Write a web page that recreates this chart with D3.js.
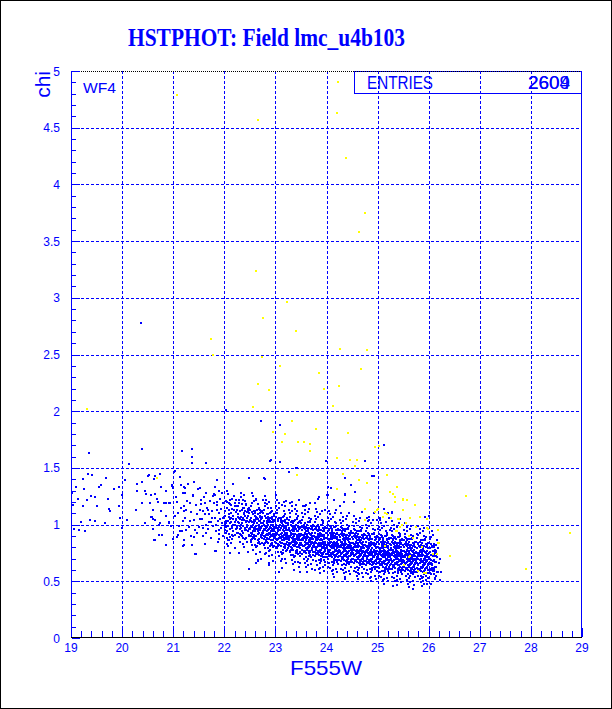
<!DOCTYPE html>
<html><head><meta charset="utf-8">
<script src="https://cdn.jsdelivr.net/npm/d3@7"></script>
<style>html,body{margin:0;padding:0;background:#fff}svg{display:block}</style>
</head><body>
<script>
const titleText = "HSTPHOT: Field lmc_u4b103";
const xLabel = "F555W";
const yLabel = "chi";
const chipLabel = "WF4";
const statsName = "ENTRIES";
const statsValues = ["2609", "2604"];
const xTicks = [19,20,21,22,23,24,25,26,27,28,29];
const yTicks = [0,0.5,1,1.5,2,2.5,3,3.5,4,4.5,5];
const yTickLabels = ["0","0.5","1","1.5","2","2.5","3","3.5","4","4.5","5"];

// sparse blue stars (bright end + outliers)
const blueSparse = [[19.35,1.63],[20.39,1.67],[21.37,1.67],[21.37,1.60],[21.18,1.65],[20.13,1.53],[21.64,1.54],[21.36,1.54],[20.37,2.78],[22.03,2.01],
[19.33,1.45],[19.42,1.44],[19.68,1.41],[20.05,1.39],[19.10,1.33],[19.23,1.40],[19.54,1.33],[19.58,1.35],[19.25,1.31],[19.85,1.31],[19.93,1.33],[19.99,1.26],[20.29,1.36],[20.39,1.38],[20.52,1.44],[20.62,1.40],[20.74,1.45],[20.76,1.33],[20.86,1.30],[20.97,1.34],[21.04,1.47],[21.13,1.42],[21.24,1.32],[20.29,1.30],[20.45,1.30],[20.56,1.26],[20.64,1.27],[19.14,1.23],[19.31,1.22],[19.39,1.25],[19.46,1.24],[19.72,1.23],[19.24,1.16],[19.50,1.16],[19.74,1.14],[19.76,1.12],[19.93,1.16],[20.09,1.04],[20.27,1.13],[20.39,1.19],[20.55,1.19],[20.57,1.07],[20.61,1.05],[20.68,1.23],[20.72,1.00],[20.85,1.19],[20.86,1.08],[20.94,1.19],[20.91,1.01],[20.73,0.91],[20.62,0.86],[20.86,0.82],[19.37,1.04],[19.46,1.03],[19.20,1.02],[19.66,1.01],[19.06,0.96],[19.15,0.95],[19.27,0.94],[19.99,0.97],[19.96,1.06],[20.99,1.32],[21.07,1.20],[21.09,1.10],[21.21,1.16],[21.09,0.91],[21.17,0.94],[21.21,0.82],[21.43,0.74],[21.63,0.83],[21.82,0.77],[22.11,0.75],[22.28,0.75],[22.66,0.68],[22.49,0.61],
[20.51,1.43],[20.64,1.43],[21.13,1.42],[21.02,1.46],[20.98,1.35],[21.22,1.33],[21.53,1.32],[21.81,1.33],[21.86,1.39],[22.17,1.36],[22.48,1.41],[21.89,1.30],[21.24,1.28],[21.64,1.28],[21.39,1.26],[21.54,1.22],[21.08,1.20],[21.33,1.19],[21.26,1.13],[21.09,1.10],[21.63,1.19],[21.80,1.19],[21.82,1.26],[21.52,1.13],[21.68,1.13],[21.85,1.13],[21.75,1.06],[21.97,1.06],[21.20,1.03],[21.33,1.03],[21.56,1.05],[21.51,0.98],[21.64,1.00],[21.42,0.95],[21.26,0.95],[21.13,0.94],[21.07,0.89],[21.22,0.86],[21.41,0.89],[21.59,0.90],[21.89,0.92],[21.90,0.87],[21.20,0.81],[21.37,0.82],[21.45,0.74],[21.84,0.77],[22.06,0.83],
[20.38,1.38],[20.47,1.27],[20.39,1.19],[20.61,1.13],[20.77,1.12],[20.70,1.20],[20.82,1.19],[20.92,1.19],[20.58,1.07],[20.64,1.04],[20.45,1.01],[20.75,1.01],[20.91,1.02],[20.95,0.99],[20.61,0.96],[20.79,0.91],[20.64,0.86],[21.00,0.87],[19.02,1.28],[19.04,1.17],
[21.52,1.05],[21.55,1.18],[21.58,0.97],[21.60,1.24],[21.62,1.09],[21.65,0.93],[21.67,1.15],[21.70,1.02],[21.72,1.21],[21.74,0.88],[21.76,1.12],[21.78,0.99],[21.80,1.27],[21.81,1.06],[21.83,0.94],[21.85,1.17],[21.87,1.03],[21.88,0.85],[21.90,1.10],[21.91,1.23],[21.93,0.97],[21.94,1.14],[21.96,1.01],[21.97,0.90],[21.98,1.19],[21.99,1.07],[21.71,1.09],[21.77,1.25],[21.84,1.00],[21.89,0.95],[21.95,1.28],[21.68,0.96],[21.59,1.12],[21.92,1.05],[21.86,1.20],[21.73,1.02],
[21.03,1.08],[21.06,1.24],[21.12,0.99],[21.15,1.15],[21.19,1.28],[21.23,1.06],[21.27,1.21],[21.30,0.98],[21.34,1.11],[21.38,1.25],[21.41,1.04],[21.44,1.17],[21.47,0.93],[21.49,1.31],[21.28,1.36],[21.35,0.90],[21.46,1.09],[21.16,1.35],[21.40,1.38],[21.21,1.12],
[22.71,1.91],[23.09,1.88],[22.91,1.57],[23.09,1.55],[22.79,1.40],[25.13,1.70],[24.75,1.56],[24.36,1.41],[24.90,1.43],[24.55,1.29],[24.08,1.32],[24.02,1.26],[23.43,1.50],[23.27,1.46],[22.78,1.41],[22.90,1.56],[23.41,1.50],[23.99,1.56],[24.92,1.43],
[22.63,1.22],[22.80,1.19],[22.86,1.15],[23.02,1.26],[23.20,1.21],[23.33,1.20],[23.43,1.12],[23.58,1.16],[23.67,1.19],[23.77,1.19],[23.84,1.23],[24.01,1.26],[24.03,1.33],[24.09,1.32],[24.36,1.27],[24.35,1.20],[24.48,1.35],[24.56,1.29],[24.54,1.20],[24.26,1.16],[24.18,1.13],[23.97,1.13],[24.53,1.08],[22.69,1.13],[22.37,1.22],[22.76,1.22],[23.86,1.24],[23.47,1.22],[23.18,1.16],[23.59,1.17],[24.15,1.22],[24.37,1.26],[24.45,1.10],[24.69,1.11],[24.84,1.07],[24.93,1.10],[25.05,1.06],[25.22,1.06],[25.44,1.05],[25.29,1.10],[25.13,1.14],[25.21,1.10],[25.28,1.11],[24.84,1.04],[24.98,1.04],[25.93,1.07],[26.01,1.08],
[26.22,0.51],[25.91,0.48],[25.31,0.46],[25.70,0.43],[23.07,0.58],[23.49,0.58],[23.77,0.60],[24.15,0.54],[24.36,0.52],[24.62,0.57],[22.65,0.69],[22.79,0.74],[22.87,0.66],[23.48,0.66],[23.97,0.64]];

// main clump of blue stars, faint end
const blueCore = [
[22.01,1.12],[22.02,0.95],[22.03,1.21],[22.04,1.03],[22.05,0.88],[22.06,1.15],[22.07,0.99],[22.08,1.27],[22.09,1.07],[22.10,0.92],[22.11,1.18],[22.12,1.01],[22.13,0.84],[22.14,1.10],[22.15,0.97],[22.16,1.23],[22.17,1.05],[22.18,0.90],[22.19,1.13],[22.20,1.00],[22.21,0.79],[22.22,1.16],[22.23,1.04],[22.24,0.93],[22.02,1.08],[22.05,1.30],[22.07,0.86],[22.09,1.19],[22.11,0.96],[22.13,1.06],[22.15,1.14],[22.17,0.94],[22.19,1.25],[22.21,1.02],[22.23,1.11],[22.04,0.98],[22.06,1.20],[22.08,1.03],[22.10,1.09],[22.12,0.89],[22.14,1.17],[22.16,0.99],[22.18,1.08],[22.20,0.91],[22.22,1.05],[22.24,1.13],[22.03,0.93],[22.08,0.81],[22.12,1.22],[22.16,0.87],[22.20,1.19],[22.24,0.99],[22.01,1.00],[22.14,1.02],[22.22,0.96],
[22.26,1.07],[22.27,0.93],[22.28,1.19],[22.29,1.01],[22.30,0.85],[22.31,1.12],[22.32,0.97],[22.33,1.24],[22.34,1.04],[22.35,0.90],[22.36,1.15],[22.37,0.99],[22.38,0.80],[22.39,1.09],[22.40,0.95],[22.41,1.21],[22.42,1.03],[22.43,0.88],[22.44,1.11],[22.45,0.98],[22.46,0.76],[22.47,1.14],[22.48,1.02],[22.49,0.91],[22.26,1.16],[22.28,0.89],[22.30,1.05],[22.32,1.28],[22.34,0.94],[22.36,1.06],[22.38,1.10],[22.40,0.87],[22.42,1.17],[22.44,1.00],[22.46,1.08],[22.48,0.96],[22.27,1.02],[22.29,1.22],[22.31,0.92],[22.33,1.00],[22.35,1.13],[22.37,0.83],[22.39,1.04],[22.41,0.97],[22.43,1.18],[22.45,1.06],[22.47,0.94],[22.49,1.10],[22.25,0.99],[22.30,0.96],[22.35,1.01],[22.40,1.12],[22.45,0.85],[22.28,1.06],[22.33,0.91],[22.38,1.26],[22.43,1.02],[22.48,1.15],[22.36,0.93],[22.41,1.08],
[22.51,1.04],[22.52,0.90],[22.53,1.16],[22.54,0.98],[22.55,0.82],[22.56,1.09],[22.57,0.94],[22.58,1.21],[22.59,1.01],[22.60,0.87],[22.61,1.12],[22.62,0.96],[22.63,0.74],[22.64,1.06],[22.65,0.92],[22.66,1.18],[22.67,1.00],[22.68,0.85],[22.69,1.08],[22.70,0.95],[22.71,0.70],[22.72,1.11],[22.73,0.99],[22.74,0.88],[22.51,1.13],[22.53,0.86],[22.55,1.02],[22.57,1.25],[22.59,0.91],[22.61,1.03],[22.63,1.07],[22.65,0.84],[22.67,1.14],[22.69,0.97],[22.71,1.05],[22.73,0.93],[22.52,0.99],[22.54,1.19],[22.56,0.89],[22.58,0.97],[22.60,1.10],[22.62,0.80],[22.64,1.01],[22.66,0.94],[22.68,1.15],[22.70,1.03],[22.72,0.91],[22.74,1.07],[22.50,0.96],[22.55,0.93],[22.60,0.98],[22.65,1.09],[22.70,0.83],[22.53,1.03],[22.58,0.88],[22.63,1.23],[22.68,0.99],[22.73,1.12],[22.61,0.90],[22.66,1.05],[22.57,0.78],[22.62,0.66],[22.69,0.76],[22.54,1.28],[22.72,0.97],
[22.76,1.01],[22.77,0.87],[22.78,1.13],[22.79,0.95],[22.80,0.79],[22.81,1.06],[22.82,0.91],[22.83,1.18],[22.84,0.98],[22.85,0.84],[22.86,1.09],[22.87,0.93],[22.88,0.72],[22.89,1.03],[22.90,0.89],[22.91,1.15],[22.92,0.97],[22.93,0.82],[22.94,1.05],[22.95,0.92],[22.96,0.68],[22.97,1.08],[22.98,0.96],[22.99,0.85],[22.76,1.10],[22.78,0.83],[22.80,0.99],[22.82,1.22],[22.84,0.88],[22.86,1.00],[22.88,1.04],[22.90,0.81],[22.92,1.11],[22.94,0.94],[22.96,1.02],[22.98,0.90],[22.77,0.96],[22.79,1.16],[22.81,0.86],[22.83,0.94],[22.85,1.07],[22.87,0.77],[22.89,0.98],[22.91,0.91],[22.93,1.12],[22.95,1.00],[22.97,0.88],[22.99,1.04],[22.75,0.93],[22.80,0.90],[22.85,0.95],[22.90,1.06],[22.95,0.80],[22.78,1.00],[22.83,0.85],[22.88,1.20],[22.93,0.96],[22.98,1.09],[22.86,0.87],[22.91,1.02],[22.82,0.75],[22.87,0.64],[22.94,0.73],[22.79,1.25],[22.97,0.94],[22.84,1.03],[22.89,0.92],[22.92,0.86],[22.96,0.99],[22.81,0.97],
[23.01,0.98],[23.02,0.84],[23.03,1.10],[23.04,0.92],[23.05,0.76],[23.06,1.03],[23.07,0.88],[23.08,1.15],[23.09,0.95],[23.10,0.81],[23.11,1.06],[23.12,0.90],[23.13,0.70],[23.14,1.00],[23.15,0.86],[23.16,1.12],[23.17,0.94],[23.18,0.79],[23.19,1.02],[23.20,0.89],[23.21,0.66],[23.22,1.05],[23.23,0.93],[23.24,0.82],[23.01,1.07],[23.03,0.80],[23.05,0.96],[23.07,1.19],[23.09,0.85],[23.11,0.97],[23.13,1.01],[23.15,0.78],[23.17,1.08],[23.19,0.91],[23.21,0.99],[23.23,0.87],[23.02,0.93],[23.04,1.13],[23.06,0.83],[23.08,0.91],[23.10,1.04],[23.12,0.74],[23.14,0.95],[23.16,0.88],[23.18,1.09],[23.20,0.97],[23.22,0.85],[23.24,1.01],[23.00,0.90],[23.05,0.87],[23.10,0.92],[23.15,1.03],[23.20,0.77],[23.03,0.97],[23.08,0.82],[23.13,1.17],[23.18,0.93],[23.23,1.06],[23.11,0.84],[23.16,0.99],[23.07,0.72],[23.12,0.62],[23.19,0.70],[23.04,1.22],[23.22,0.91],[23.09,1.00],[23.14,0.89],[23.17,0.83],[23.21,0.95],[23.06,0.94],[23.02,1.16],[23.10,0.68],[23.16,1.20],[23.24,0.79],[23.13,0.86],
[23.26,0.95],[23.27,0.81],[23.28,1.07],[23.29,0.89],[23.30,0.73],[23.31,1.00],[23.32,0.85],[23.33,1.12],[23.34,0.92],[23.35,0.78],[23.36,1.03],[23.37,0.87],[23.38,0.67],[23.39,0.97],[23.40,0.83],[23.41,1.09],[23.42,0.91],[23.43,0.76],[23.44,0.99],[23.45,0.86],[23.46,0.63],[23.47,1.02],[23.48,0.90],[23.49,0.79],[23.26,1.04],[23.28,0.77],[23.30,0.93],[23.32,1.16],[23.34,0.82],[23.36,0.94],[23.38,0.98],[23.40,0.75],[23.42,1.05],[23.44,0.88],[23.46,0.96],[23.48,0.84],[23.27,0.90],[23.29,1.10],[23.31,0.80],[23.33,0.88],[23.35,1.01],[23.37,0.71],[23.39,0.92],[23.41,0.85],[23.43,1.06],[23.45,0.94],[23.47,0.82],[23.49,0.98],[23.25,0.87],[23.30,0.84],[23.35,0.89],[23.40,1.00],[23.45,0.74],[23.28,0.94],[23.33,0.79],[23.38,1.14],[23.43,0.90],[23.48,1.03],[23.36,0.81],[23.41,0.96],[23.32,0.69],[23.37,0.60],[23.44,0.67],[23.29,1.19],[23.47,0.88],[23.34,0.97],[23.39,0.86],[23.42,0.80],[23.46,0.92],[23.31,0.91],[23.27,1.13],[23.35,0.65],[23.41,1.17],[23.49,0.76],[23.38,0.83],[23.26,0.86],[23.33,0.99],[23.44,1.08],[23.48,0.72],[23.30,1.02],
[23.51,0.92],[23.52,0.78],[23.53,1.04],[23.54,0.86],[23.55,0.70],[23.56,0.97],[23.57,0.82],[23.58,1.09],[23.59,0.89],[23.60,0.75],[23.61,1.00],[23.62,0.84],[23.63,0.64],[23.64,0.94],[23.65,0.80],[23.66,1.06],[23.67,0.88],[23.68,0.73],[23.69,0.96],[23.70,0.83],[23.71,0.61],[23.72,0.99],[23.73,0.87],[23.74,0.76],[23.51,1.01],[23.53,0.74],[23.55,0.90],[23.57,1.13],[23.59,0.79],[23.61,0.91],[23.63,0.95],[23.65,0.72],[23.67,1.02],[23.69,0.85],[23.71,0.93],[23.73,0.81],[23.52,0.87],[23.54,1.07],[23.56,0.77],[23.58,0.85],[23.60,0.98],[23.62,0.68],[23.64,0.89],[23.66,0.82],[23.68,1.03],[23.70,0.91],[23.72,0.79],[23.74,0.95],[23.50,0.84],[23.55,0.81],[23.60,0.86],[23.65,0.97],[23.70,0.71],[23.53,0.91],[23.58,0.76],[23.63,1.11],[23.68,0.87],[23.73,1.00],[23.61,0.78],[23.66,0.93],[23.57,0.66],[23.62,0.58],[23.69,0.65],[23.54,1.16],[23.72,0.85],[23.59,0.94],[23.64,0.83],[23.67,0.77],[23.71,0.89],[23.56,0.88],[23.52,1.10],[23.60,0.63],[23.66,1.14],[23.74,0.73],[23.63,0.80],[23.51,0.83],[23.58,0.96],[23.69,1.05],[23.73,0.69],[23.55,0.99],[23.62,0.92],[23.68,0.81],[23.57,0.88],[23.65,0.86],[23.71,0.97],
[23.76,0.90],[23.77,0.76],[23.78,1.02],[23.79,0.84],[23.80,0.68],[23.81,0.95],[23.82,0.80],[23.83,1.07],[23.84,0.87],[23.85,0.73],[23.86,0.98],[23.87,0.82],[23.88,0.62],[23.89,0.92],[23.90,0.78],[23.91,1.04],[23.92,0.86],[23.93,0.71],[23.94,0.94],[23.95,0.81],[23.96,0.59],[23.97,0.97],[23.98,0.85],[23.99,0.74],[23.76,0.99],[23.78,0.72],[23.80,0.88],[23.82,1.11],[23.84,0.77],[23.86,0.89],[23.88,0.93],[23.90,0.70],[23.92,1.00],[23.94,0.83],[23.96,0.91],[23.98,0.79],[23.77,0.85],[23.79,1.05],[23.81,0.75],[23.83,0.83],[23.85,0.96],[23.87,0.66],[23.89,0.87],[23.91,0.80],[23.93,1.01],[23.95,0.89],[23.97,0.77],[23.99,0.93],[23.75,0.82],[23.80,0.79],[23.85,0.84],[23.90,0.95],[23.95,0.69],[23.78,0.89],[23.83,0.74],[23.88,1.09],[23.93,0.85],[23.98,0.98],[23.86,0.76],[23.91,0.91],[23.82,0.64],[23.87,0.57],[23.94,0.63],[23.79,1.14],[23.97,0.83],[23.84,0.92],[23.89,0.81],[23.92,0.75],[23.96,0.87],[23.81,0.86],[23.77,1.08],[23.85,0.61],[23.91,1.12],[23.99,0.71],[23.88,0.78],[23.76,0.81],[23.83,0.94],[23.94,1.03],[23.98,0.67],[23.80,0.97],[23.87,0.90],[23.93,0.79],[23.82,0.86],[23.90,0.84],[23.96,0.95],[23.79,0.78],[23.84,1.00],[23.89,0.72],[23.95,0.76],[23.99,0.88],
[24.01,0.88],[24.02,0.74],[24.03,1.00],[24.04,0.82],[24.05,0.66],[24.06,0.93],[24.07,0.78],[24.08,1.05],[24.09,0.85],[24.10,0.71],[24.11,0.96],[24.12,0.80],[24.13,0.60],[24.14,0.90],[24.15,0.76],[24.16,1.02],[24.17,0.84],[24.18,0.69],[24.19,0.92],[24.20,0.79],[24.21,0.58],[24.22,0.95],[24.23,0.83],[24.24,0.72],[24.01,0.97],[24.03,0.70],[24.05,0.86],[24.07,1.09],[24.09,0.75],[24.11,0.87],[24.13,0.91],[24.15,0.68],[24.17,0.98],[24.19,0.81],[24.21,0.89],[24.23,0.77],[24.02,0.83],[24.04,1.03],[24.06,0.73],[24.08,0.81],[24.10,0.94],[24.12,0.64],[24.14,0.85],[24.16,0.78],[24.18,0.99],[24.20,0.87],[24.22,0.75],[24.24,0.91],[24.00,0.80],[24.05,0.77],[24.10,0.82],[24.15,0.93],[24.20,0.67],[24.03,0.87],[24.08,0.72],[24.13,1.07],[24.18,0.83],[24.23,0.96],[24.11,0.74],[24.16,0.89],[24.07,0.62],[24.12,0.56],[24.19,0.61],[24.04,1.12],[24.22,0.81],[24.09,0.90],[24.14,0.79],[24.17,0.73],[24.21,0.85],[24.06,0.84],[24.02,1.06],[24.10,0.59],[24.16,1.10],[24.24,0.69],[24.13,0.76],[24.01,0.79],[24.08,0.92],[24.19,1.01],[24.23,0.65],[24.05,0.95],[24.12,0.88],[24.18,0.77],[24.07,0.84],[24.15,0.82],[24.21,0.93],[24.04,0.76],[24.09,0.98],[24.14,0.70],[24.20,0.74],[24.24,0.86],[24.06,0.99],[24.11,0.81],[24.17,0.90],[24.22,0.71],[24.03,0.63],
[24.26,0.86],[24.27,0.72],[24.28,0.98],[24.29,0.80],[24.30,0.64],[24.31,0.91],[24.32,0.76],[24.33,1.03],[24.34,0.83],[24.35,0.69],[24.36,0.94],[24.37,0.78],[24.38,0.58],[24.39,0.88],[24.40,0.74],[24.41,1.00],[24.42,0.82],[24.43,0.67],[24.44,0.90],[24.45,0.77],[24.46,0.56],[24.47,0.93],[24.48,0.81],[24.49,0.70],[24.26,0.95],[24.28,0.68],[24.30,0.84],[24.32,1.07],[24.34,0.73],[24.36,0.85],[24.38,0.89],[24.40,0.66],[24.42,0.96],[24.44,0.79],[24.46,0.87],[24.48,0.75],[24.27,0.81],[24.29,1.01],[24.31,0.71],[24.33,0.79],[24.35,0.92],[24.37,0.62],[24.39,0.83],[24.41,0.76],[24.43,0.97],[24.45,0.85],[24.47,0.73],[24.49,0.89],[24.25,0.78],[24.30,0.75],[24.35,0.80],[24.40,0.91],[24.45,0.65],[24.28,0.85],[24.33,0.70],[24.38,1.05],[24.43,0.81],[24.48,0.94],[24.36,0.72],[24.41,0.87],[24.32,0.60],[24.37,0.54],[24.44,0.59],[24.29,1.10],[24.47,0.79],[24.34,0.88],[24.39,0.77],[24.42,0.71],[24.46,0.83],[24.31,0.82],[24.27,1.04],[24.35,0.57],[24.41,1.08],[24.49,0.67],[24.38,0.74],[24.26,0.77],[24.33,0.90],[24.44,0.99],[24.48,0.63],[24.30,0.93],[24.37,0.86],[24.43,0.75],[24.32,0.82],[24.40,0.80],[24.46,0.91],[24.29,0.74],[24.34,0.96],[24.39,0.68],[24.45,0.72],[24.49,0.84],[24.31,0.97],[24.36,0.79],[24.42,0.88],[24.47,0.69],[24.28,0.61],
[24.51,0.84],[24.52,0.70],[24.53,0.96],[24.54,0.78],[24.55,0.62],[24.56,0.89],[24.57,0.74],[24.58,1.01],[24.59,0.81],[24.60,0.67],[24.61,0.92],[24.62,0.76],[24.63,0.56],[24.64,0.86],[24.65,0.72],[24.66,0.98],[24.67,0.80],[24.68,0.65],[24.69,0.88],[24.70,0.75],[24.71,0.54],[24.72,0.91],[24.73,0.79],[24.74,0.68],[24.51,0.93],[24.53,0.66],[24.55,0.82],[24.57,1.05],[24.59,0.71],[24.61,0.83],[24.63,0.87],[24.65,0.64],[24.67,0.94],[24.69,0.77],[24.71,0.85],[24.73,0.73],[24.52,0.79],[24.54,0.99],[24.56,0.69],[24.58,0.77],[24.60,0.90],[24.62,0.60],[24.64,0.81],[24.66,0.74],[24.68,0.95],[24.70,0.83],[24.72,0.71],[24.74,0.87],[24.50,0.76],[24.55,0.73],[24.60,0.78],[24.65,0.89],[24.70,0.63],[24.53,0.83],[24.58,0.68],[24.63,1.03],[24.68,0.79],[24.73,0.92],[24.61,0.70],[24.66,0.85],[24.57,0.58],[24.62,0.52],[24.69,0.57],[24.54,1.08],[24.72,0.77],[24.59,0.86],[24.64,0.75],[24.67,0.69],[24.71,0.81],[24.56,0.80],[24.52,1.02],[24.60,0.55],[24.66,1.06],[24.74,0.65],[24.63,0.72],[24.51,0.75],[24.58,0.88],[24.69,0.97],[24.73,0.61],[24.55,0.91],[24.62,0.84],[24.68,0.73],[24.57,0.80],[24.65,0.78],[24.71,0.89],[24.54,0.72],[24.59,0.94],[24.64,0.66],[24.70,0.70],[24.74,0.82],[24.56,0.95],[24.61,0.77],[24.67,0.86],[24.72,0.67],[24.53,0.59],
[24.76,0.82],[24.77,0.68],[24.78,0.94],[24.79,0.76],[24.80,0.60],[24.81,0.87],[24.82,0.72],[24.83,0.99],[24.84,0.79],[24.85,0.65],[24.86,0.90],[24.87,0.74],[24.88,0.54],[24.89,0.84],[24.90,0.70],[24.91,0.96],[24.92,0.78],[24.93,0.63],[24.94,0.86],[24.95,0.73],[24.96,0.52],[24.97,0.89],[24.98,0.77],[24.99,0.66],[24.76,0.91],[24.78,0.64],[24.80,0.80],[24.82,1.03],[24.84,0.69],[24.86,0.81],[24.88,0.85],[24.90,0.62],[24.92,0.92],[24.94,0.75],[24.96,0.83],[24.98,0.71],[24.77,0.77],[24.79,0.97],[24.81,0.67],[24.83,0.75],[24.85,0.88],[24.87,0.58],[24.89,0.79],[24.91,0.72],[24.93,0.93],[24.95,0.81],[24.97,0.69],[24.99,0.85],[24.75,0.74],[24.80,0.71],[24.85,0.76],[24.90,0.87],[24.95,0.61],[24.78,0.81],[24.83,0.66],[24.88,1.01],[24.93,0.77],[24.98,0.90],[24.86,0.68],[24.91,0.83],[24.82,0.56],[24.87,0.50],[24.94,0.55],[24.79,1.06],[24.97,0.75],[24.84,0.84],[24.89,0.73],[24.92,0.67],[24.96,0.79],[24.81,0.78],[24.77,1.00],[24.85,0.53],[24.91,1.04],[24.99,0.63],[24.88,0.70],[24.76,0.73],[24.83,0.86],[24.94,0.95],[24.98,0.59],[24.80,0.89],[24.87,0.82],[24.93,0.71],[24.82,0.78],[24.90,0.76],[24.96,0.87],[24.79,0.70],[24.84,0.92],[24.89,0.64],[24.95,0.68],[24.99,0.80],[24.81,0.93],[24.86,0.75],[24.92,0.84],[24.97,0.65],[24.78,0.57],
[25.01,0.80],[25.02,0.66],[25.03,0.92],[25.04,0.74],[25.05,0.58],[25.06,0.85],[25.07,0.70],[25.08,0.97],[25.09,0.77],[25.10,0.63],[25.11,0.88],[25.12,0.72],[25.13,0.52],[25.14,0.82],[25.15,0.68],[25.16,0.94],[25.17,0.76],[25.18,0.61],[25.19,0.84],[25.20,0.71],[25.21,0.50],[25.22,0.87],[25.23,0.75],[25.24,0.64],[25.01,0.89],[25.03,0.62],[25.05,0.78],[25.07,1.01],[25.09,0.67],[25.11,0.79],[25.13,0.83],[25.15,0.60],[25.17,0.90],[25.19,0.73],[25.21,0.81],[25.23,0.69],[25.02,0.75],[25.04,0.95],[25.06,0.65],[25.08,0.73],[25.10,0.86],[25.12,0.56],[25.14,0.77],[25.16,0.70],[25.18,0.91],[25.20,0.79],[25.22,0.67],[25.24,0.83],[25.00,0.72],[25.05,0.69],[25.10,0.74],[25.15,0.85],[25.20,0.59],[25.03,0.79],[25.08,0.64],[25.13,0.99],[25.18,0.75],[25.23,0.88],[25.11,0.66],[25.16,0.81],[25.07,0.54],[25.12,0.48],[25.19,0.53],[25.04,1.04],[25.22,0.73],[25.09,0.82],[25.14,0.71],[25.17,0.65],[25.21,0.77],[25.06,0.76],[25.02,0.98],[25.10,0.51],[25.16,1.02],[25.24,0.61],[25.13,0.68],[25.01,0.71],[25.08,0.84],[25.19,0.93],[25.23,0.57],[25.05,0.87],[25.12,0.80],[25.18,0.69],[25.07,0.76],[25.15,0.74],[25.21,0.85],[25.04,0.68],[25.09,0.90],[25.14,0.62],[25.20,0.66],[25.24,0.78],[25.06,0.91],[25.11,0.73],[25.17,0.82],[25.22,0.63],[25.03,0.55],[25.00,0.96],[25.13,0.78],[25.18,0.86],[25.09,0.59],
[25.26,0.79],[25.27,0.65],[25.28,0.91],[25.29,0.73],[25.30,0.57],[25.31,0.84],[25.32,0.69],[25.33,0.96],[25.34,0.76],[25.35,0.62],[25.36,0.87],[25.37,0.71],[25.38,0.51],[25.39,0.81],[25.40,0.67],[25.41,0.93],[25.42,0.75],[25.43,0.60],[25.44,0.83],[25.45,0.70],[25.46,0.49],[25.47,0.86],[25.48,0.74],[25.49,0.63],[25.26,0.88],[25.28,0.61],[25.30,0.77],[25.32,1.00],[25.34,0.66],[25.36,0.78],[25.38,0.82],[25.40,0.59],[25.42,0.89],[25.44,0.72],[25.46,0.80],[25.48,0.68],[25.27,0.74],[25.29,0.94],[25.31,0.64],[25.33,0.72],[25.35,0.85],[25.37,0.55],[25.39,0.76],[25.41,0.69],[25.43,0.90],[25.45,0.78],[25.47,0.66],[25.49,0.82],[25.25,0.71],[25.30,0.68],[25.35,0.73],[25.40,0.84],[25.45,0.58],[25.28,0.78],[25.33,0.63],[25.38,0.98],[25.43,0.74],[25.48,0.87],[25.36,0.65],[25.41,0.80],[25.32,0.53],[25.37,0.47],[25.44,0.52],[25.29,1.03],[25.47,0.72],[25.34,0.81],[25.39,0.70],[25.42,0.64],[25.46,0.76],[25.31,0.75],[25.27,0.97],[25.35,0.50],[25.41,1.01],[25.49,0.60],[25.38,0.67],[25.26,0.70],[25.33,0.83],[25.44,0.92],[25.48,0.56],[25.30,0.86],[25.37,0.79],[25.43,0.68],[25.32,0.75],[25.40,0.73],[25.46,0.84],[25.29,0.67],[25.34,0.89],[25.39,0.61],[25.45,0.65],[25.49,0.77],[25.31,0.90],[25.36,0.72],[25.42,0.81],[25.47,0.62],[25.28,0.54],[25.25,0.95],[25.38,0.77],[25.43,0.85],[25.34,0.58],[25.46,0.71],
[25.51,0.77],[25.52,0.63],[25.53,0.89],[25.54,0.71],[25.55,0.55],[25.56,0.82],[25.57,0.67],[25.58,0.94],[25.59,0.74],[25.60,0.60],[25.61,0.85],[25.62,0.69],[25.63,0.49],[25.64,0.79],[25.65,0.65],[25.66,0.91],[25.67,0.73],[25.68,0.58],[25.69,0.81],[25.70,0.68],[25.71,0.47],[25.72,0.84],[25.73,0.72],[25.74,0.61],[25.51,0.86],[25.53,0.59],[25.55,0.75],[25.57,0.98],[25.59,0.64],[25.61,0.76],[25.63,0.80],[25.65,0.57],[25.67,0.87],[25.69,0.70],[25.71,0.78],[25.73,0.66],[25.52,0.72],[25.54,0.92],[25.56,0.62],[25.58,0.70],[25.60,0.83],[25.62,0.53],[25.64,0.74],[25.66,0.67],[25.68,0.88],[25.70,0.76],[25.72,0.64],[25.74,0.80],[25.50,0.69],[25.55,0.66],[25.60,0.71],[25.65,0.82],[25.70,0.56],[25.53,0.76],[25.58,0.61],[25.63,0.96],[25.68,0.72],[25.73,0.85],[25.61,0.63],[25.66,0.78],[25.57,0.51],[25.62,0.45],[25.69,0.50],[25.54,1.01],[25.72,0.70],[25.59,0.79],[25.64,0.68],[25.67,0.62],[25.71,0.74],[25.56,0.73],[25.52,0.95],[25.60,0.48],[25.66,0.99],[25.74,0.58],[25.63,0.65],[25.51,0.68],[25.58,0.81],[25.69,0.90],[25.73,0.54],[25.55,0.84],[25.62,0.77],[25.68,0.66],[25.57,0.73],[25.65,0.71],[25.71,0.82],[25.54,0.65],[25.59,0.87],[25.64,0.59],[25.70,0.63],[25.74,0.75],[25.56,0.88],[25.61,0.70],[25.67,0.79],[25.72,0.60],
[25.76,0.76],[25.77,0.62],[25.78,0.88],[25.79,0.70],[25.80,0.55],[25.81,0.81],[25.82,0.66],[25.83,0.93],[25.84,0.73],[25.85,0.59],[25.86,0.84],[25.87,0.68],[25.88,0.50],[25.89,0.78],[25.90,0.64],[25.91,0.90],[25.92,0.72],[25.93,0.57],[25.94,0.80],[25.95,0.67],[25.96,0.48],[25.97,0.83],[25.98,0.71],[25.99,0.60],[25.76,0.85],[25.78,0.58],[25.80,0.74],[25.82,0.96],[25.84,0.63],[25.86,0.75],[25.88,0.79],[25.90,0.56],[25.92,0.86],[25.94,0.69],[25.96,0.77],[25.98,0.65],[25.77,0.71],[25.79,0.91],[25.81,0.61],[25.83,0.69],[25.85,0.82],[25.87,0.53],[25.89,0.73],[25.91,0.66],[25.93,0.87],[25.95,0.75],[25.97,0.63],[25.99,0.79],[25.75,0.68],[25.80,0.65],[25.85,0.70],[25.90,0.81],[25.95,0.55],[25.78,0.75],[25.83,0.60],[25.88,0.94],[25.93,0.71],[25.98,0.84],[25.86,0.62],[25.91,0.77],[25.82,0.52],[25.87,0.46],[25.94,0.51],[25.79,0.99],[25.97,0.69],[25.84,0.78],[25.89,0.67],[25.92,0.61],[25.96,0.73],[25.81,0.72],[25.77,0.92],[25.85,0.49],[25.91,0.97],[25.99,0.57],[25.88,0.64],[25.76,0.67],[25.83,0.80],[25.94,0.89],[25.98,0.53],[25.80,0.83],[25.87,0.76],[25.93,0.65],[25.82,0.72],[25.90,0.70],[25.96,0.81],[25.79,0.64],[25.84,0.86],[25.89,0.58],[25.95,0.62],[25.99,0.74],
[26.01,0.75],[26.02,0.61],[26.03,0.87],[26.04,0.69],[26.05,0.56],[26.06,0.80],[26.07,0.65],[26.08,0.91],[26.09,0.72],[26.10,0.59],[26.11,0.83],[26.12,0.67],[26.13,0.53],[26.14,0.77],[26.15,0.63],[26.16,0.86],[26.17,0.71],[26.18,0.58],[26.19,0.79],[26.20,0.66],[26.01,0.84],[26.03,0.57],[26.05,0.73],[26.07,0.94],[26.09,0.62],[26.11,0.74],[26.13,0.78],[26.15,0.55],[26.02,0.70],[26.04,0.89],[26.06,0.60],[26.08,0.68],[26.10,0.81],[26.12,0.52],[26.14,0.72],[26.00,0.66],[26.06,0.64],[26.10,0.69],[26.14,0.82],[26.03,0.76],[26.08,0.59],[26.22,0.70],[26.24,0.58],[26.05,0.48],[26.12,0.76]];

// densest part of the clump
const blueDense = [
[22.03,1.01],[22.06,0.94],[22.09,1.13],[22.12,1.05],[22.15,0.91],[22.18,1.00],[22.21,1.16],[22.24,0.97],[22.27,1.09],[22.30,0.99],[22.33,1.07],[22.36,0.88],[22.39,1.15],[22.42,0.95],[22.45,1.03],[22.48,0.90],[22.10,0.86],[22.22,1.22],[22.34,1.18],[22.46,1.12],
[22.51,0.97],[22.52,1.06],[22.53,0.85],[22.54,0.92],[22.55,1.11],[22.56,1.00],[22.57,0.88],[22.58,1.04],[22.59,0.95],[22.60,0.82],[22.61,1.08],[22.62,0.99],[22.63,0.90],[22.64,1.13],[22.65,0.96],[22.66,0.86],[22.67,1.03],[22.68,0.93],[22.69,1.10],[22.70,0.98],[22.71,0.89],[22.72,1.01],[22.73,0.84],[22.74,1.06],[22.52,0.93],[22.55,0.87],[22.58,1.12],[22.61,0.94],[22.64,0.81],[22.67,0.97],[22.70,1.07],[22.73,0.91],[22.56,1.02],[22.62,1.05],[22.68,0.87],
[22.76,0.94],[22.77,1.03],[22.78,0.82],[22.79,0.89],[22.80,1.08],[22.81,0.97],[22.82,0.85],[22.83,1.01],[22.84,0.92],[22.85,0.79],[22.86,1.05],[22.87,0.96],[22.88,0.87],[22.89,1.10],[22.90,0.93],[22.91,0.83],[22.92,1.00],[22.93,0.90],[22.94,1.07],[22.95,0.95],[22.96,0.86],[22.97,0.98],[22.98,0.81],[22.99,1.03],[22.77,0.90],[22.80,0.84],[22.83,1.09],[22.86,0.91],[22.89,0.78],[22.92,0.94],[22.95,1.04],[22.98,0.88],[22.81,0.99],[22.87,1.02],[22.93,0.84],[22.97,0.92],
[23.01,0.91],[23.02,1.00],[23.03,0.79],[23.04,0.86],[23.05,1.05],[23.06,0.94],[23.07,0.82],[23.08,0.98],[23.09,0.89],[23.10,0.76],[23.11,1.02],[23.12,0.93],[23.13,0.84],[23.14,1.07],[23.15,0.90],[23.16,0.80],[23.17,0.97],[23.18,0.87],[23.19,1.04],[23.20,0.92],[23.21,0.83],[23.22,0.95],[23.23,0.78],[23.24,1.00],[23.02,0.87],[23.05,0.81],[23.08,1.06],[23.11,0.88],[23.14,0.75],[23.17,0.91],[23.20,1.01],[23.23,0.85],[23.06,0.96],[23.12,0.99],[23.18,0.81],[23.22,0.89],[23.04,0.93],[23.16,0.86],
[23.26,0.88],[23.27,0.97],[23.28,0.76],[23.29,0.83],[23.30,1.02],[23.31,0.91],[23.32,0.79],[23.33,0.95],[23.34,0.86],[23.35,0.73],[23.36,0.99],[23.37,0.90],[23.38,0.81],[23.39,1.04],[23.40,0.87],[23.41,0.77],[23.42,0.94],[23.43,0.84],[23.44,1.01],[23.45,0.89],[23.46,0.80],[23.47,0.92],[23.48,0.75],[23.49,0.97],[23.27,0.84],[23.30,0.78],[23.33,1.03],[23.36,0.85],[23.39,0.72],[23.42,0.88],[23.45,0.98],[23.48,0.82],[23.31,0.93],[23.37,0.96],[23.43,0.78],[23.47,0.86],[23.29,0.90],[23.41,0.83],[23.35,0.94],[23.46,0.91],
[23.51,0.86],[23.52,0.95],[23.53,0.74],[23.54,0.81],[23.55,1.00],[23.56,0.89],[23.57,0.77],[23.58,0.93],[23.59,0.84],[23.60,0.71],[23.61,0.97],[23.62,0.88],[23.63,0.79],[23.64,1.02],[23.65,0.85],[23.66,0.75],[23.67,0.92],[23.68,0.82],[23.69,0.99],[23.70,0.87],[23.71,0.78],[23.72,0.90],[23.73,0.73],[23.74,0.95],[23.52,0.82],[23.55,0.76],[23.58,1.01],[23.61,0.83],[23.64,0.70],[23.67,0.86],[23.70,0.96],[23.73,0.80],[23.56,0.91],[23.62,0.94],[23.68,0.76],[23.72,0.84],[23.54,0.88],[23.66,0.81],[23.60,0.92],[23.71,0.89],[23.53,0.98],[23.65,0.77],
[23.76,0.84],[23.77,0.93],[23.78,0.72],[23.79,0.79],[23.80,0.98],[23.81,0.87],[23.82,0.75],[23.83,0.91],[23.84,0.82],[23.85,0.69],[23.86,0.95],[23.87,0.86],[23.88,0.77],[23.89,1.00],[23.90,0.83],[23.91,0.73],[23.92,0.90],[23.93,0.80],[23.94,0.97],[23.95,0.85],[23.96,0.76],[23.97,0.88],[23.98,0.71],[23.99,0.93],[23.77,0.80],[23.80,0.74],[23.83,0.99],[23.86,0.81],[23.89,0.68],[23.92,0.84],[23.95,0.94],[23.98,0.78],[23.81,0.89],[23.87,0.92],[23.93,0.74],[23.97,0.82],[23.79,0.86],[23.91,0.79],[23.85,0.90],[23.96,0.87],[23.78,0.96],[23.90,0.75],
[24.01,0.82],[24.02,0.91],[24.03,0.70],[24.04,0.77],[24.05,0.96],[24.06,0.85],[24.07,0.73],[24.08,0.89],[24.09,0.80],[24.10,0.67],[24.11,0.93],[24.12,0.84],[24.13,0.75],[24.14,0.98],[24.15,0.81],[24.16,0.71],[24.17,0.88],[24.18,0.78],[24.19,0.95],[24.20,0.83],[24.21,0.74],[24.22,0.86],[24.23,0.69],[24.24,0.91],[24.02,0.78],[24.05,0.72],[24.08,0.97],[24.11,0.79],[24.14,0.66],[24.17,0.82],[24.20,0.92],[24.23,0.76],[24.06,0.87],[24.12,0.90],[24.18,0.72],[24.22,0.80],[24.04,0.84],[24.16,0.77],[24.10,0.88],[24.21,0.85],[24.03,0.94],[24.15,0.73],[24.07,0.81],[24.19,0.69],
[24.26,0.80],[24.27,0.89],[24.28,0.68],[24.29,0.75],[24.30,0.94],[24.31,0.83],[24.32,0.71],[24.33,0.87],[24.34,0.78],[24.35,0.65],[24.36,0.91],[24.37,0.82],[24.38,0.73],[24.39,0.96],[24.40,0.79],[24.41,0.69],[24.42,0.86],[24.43,0.76],[24.44,0.93],[24.45,0.81],[24.46,0.72],[24.47,0.84],[24.48,0.67],[24.49,0.89],[24.27,0.76],[24.30,0.70],[24.33,0.95],[24.36,0.77],[24.39,0.64],[24.42,0.80],[24.45,0.90],[24.48,0.74],[24.31,0.85],[24.37,0.88],[24.43,0.70],[24.47,0.78],[24.29,0.82],[24.41,0.75],[24.35,0.86],[24.46,0.83],[24.28,0.92],[24.40,0.71],[24.32,0.79],[24.44,0.67],
[24.51,0.78],[24.52,0.87],[24.53,0.66],[24.54,0.73],[24.55,0.92],[24.56,0.81],[24.57,0.69],[24.58,0.85],[24.59,0.76],[24.60,0.63],[24.61,0.89],[24.62,0.80],[24.63,0.71],[24.64,0.94],[24.65,0.77],[24.66,0.67],[24.67,0.84],[24.68,0.74],[24.69,0.91],[24.70,0.79],[24.71,0.70],[24.72,0.82],[24.73,0.65],[24.74,0.87],[24.52,0.74],[24.55,0.68],[24.58,0.93],[24.61,0.75],[24.64,0.62],[24.67,0.78],[24.70,0.88],[24.73,0.72],[24.56,0.83],[24.62,0.86],[24.68,0.68],[24.72,0.76],[24.54,0.80],[24.66,0.73],[24.60,0.84],[24.71,0.81],[24.53,0.90],[24.65,0.69],[24.57,0.77],[24.69,0.65],
[24.76,0.76],[24.77,0.85],[24.78,0.64],[24.79,0.71],[24.80,0.90],[24.81,0.79],[24.82,0.67],[24.83,0.83],[24.84,0.74],[24.85,0.61],[24.86,0.87],[24.87,0.78],[24.88,0.69],[24.89,0.92],[24.90,0.75],[24.91,0.65],[24.92,0.82],[24.93,0.72],[24.94,0.89],[24.95,0.77],[24.96,0.68],[24.97,0.80],[24.98,0.63],[24.99,0.85],[24.77,0.72],[24.80,0.66],[24.83,0.91],[24.86,0.73],[24.89,0.60],[24.92,0.76],[24.95,0.86],[24.98,0.70],[24.81,0.81],[24.87,0.84],[24.93,0.66],[24.97,0.74],[24.79,0.78],[24.91,0.71],[24.85,0.82],[24.96,0.79],[24.78,0.88],[24.90,0.67],[24.82,0.75],[24.94,0.63],
[25.01,0.74],[25.02,0.83],[25.03,0.62],[25.04,0.69],[25.05,0.88],[25.06,0.77],[25.07,0.65],[25.08,0.81],[25.09,0.72],[25.10,0.59],[25.11,0.85],[25.12,0.76],[25.13,0.67],[25.14,0.90],[25.15,0.73],[25.16,0.63],[25.17,0.80],[25.18,0.70],[25.19,0.87],[25.20,0.75],[25.21,0.66],[25.22,0.78],[25.23,0.61],[25.24,0.83],[25.02,0.70],[25.05,0.64],[25.08,0.89],[25.11,0.71],[25.14,0.58],[25.17,0.74],[25.20,0.84],[25.23,0.68],[25.06,0.79],[25.12,0.82],[25.18,0.64],[25.22,0.72],[25.04,0.76],[25.16,0.69],[25.10,0.80],[25.21,0.77],[25.03,0.86],[25.15,0.65],[25.07,0.73],[25.19,0.61],[25.09,0.67],[25.13,0.75],
[25.26,0.73],[25.27,0.82],[25.28,0.61],[25.29,0.68],[25.30,0.87],[25.31,0.76],[25.32,0.64],[25.33,0.80],[25.34,0.71],[25.35,0.58],[25.36,0.84],[25.37,0.75],[25.38,0.66],[25.39,0.89],[25.40,0.72],[25.41,0.62],[25.42,0.79],[25.43,0.69],[25.44,0.86],[25.45,0.74],[25.46,0.65],[25.47,0.77],[25.48,0.60],[25.49,0.82],[25.27,0.69],[25.30,0.63],[25.33,0.88],[25.36,0.70],[25.39,0.57],[25.42,0.73],[25.45,0.83],[25.48,0.67],[25.31,0.78],[25.37,0.81],[25.43,0.63],[25.47,0.71],[25.29,0.75],[25.41,0.68],[25.35,0.79],[25.46,0.76],[25.28,0.85],[25.40,0.64],[25.32,0.72],[25.44,0.60],[25.34,0.66],[25.38,0.74],
[25.51,0.71],[25.52,0.80],[25.53,0.59],[25.54,0.66],[25.55,0.85],[25.56,0.74],[25.57,0.62],[25.58,0.78],[25.59,0.69],[25.60,0.56],[25.61,0.82],[25.62,0.73],[25.63,0.64],[25.64,0.87],[25.65,0.70],[25.66,0.60],[25.67,0.77],[25.68,0.67],[25.69,0.84],[25.70,0.72],[25.71,0.63],[25.72,0.75],[25.73,0.58],[25.74,0.80],[25.52,0.67],[25.55,0.61],[25.58,0.86],[25.61,0.68],[25.64,0.55],[25.67,0.71],[25.70,0.81],[25.73,0.65],[25.56,0.76],[25.62,0.79],[25.68,0.61],[25.72,0.69],[25.54,0.73],[25.66,0.66],[25.60,0.77],[25.71,0.74],[25.53,0.83],[25.65,0.62],[25.57,0.70],[25.69,0.58],
[25.76,0.70],[25.77,0.79],[25.78,0.58],[25.79,0.65],[25.80,0.84],[25.81,0.73],[25.82,0.61],[25.83,0.77],[25.84,0.68],[25.85,0.55],[25.86,0.81],[25.87,0.72],[25.88,0.63],[25.89,0.86],[25.90,0.69],[25.91,0.59],[25.92,0.76],[25.93,0.66],[25.94,0.83],[25.95,0.71],[25.96,0.62],[25.97,0.74],[25.98,0.57],[25.99,0.79],[25.77,0.66],[25.80,0.60],[25.83,0.85],[25.86,0.67],[25.89,0.54],[25.92,0.70],[25.95,0.80],[25.98,0.64],[25.81,0.75],[25.87,0.78],[25.93,0.60],[25.97,0.68],[25.79,0.72],[25.91,0.65],[25.85,0.76],[25.96,0.73],
[26.01,0.70],[26.02,0.79],[26.03,0.60],[26.04,0.66],[26.05,0.83],[26.06,0.73],[26.07,0.62],[26.08,0.77],[26.09,0.68],[26.10,0.56],[26.11,0.80],[26.12,0.72],[26.13,0.63],[26.14,0.75],[26.15,0.67],[26.16,0.58],[26.17,0.74],[26.02,0.65],[26.06,0.81],[26.11,0.61]];

// second (yellow) selection
const yellowPts = [[21.08,4.79],[24.22,4.90],[24.20,4.63],[22.66,4.57],[24.38,4.23],[24.75,3.75],[24.63,3.58],[22.63,3.24],[23.22,2.96],[22.75,2.82],[23.40,2.71],[21.73,2.64],[21.77,2.50],[24.26,2.55],[24.79,2.54],[22.74,2.48],[23.09,2.40],[23.85,2.34],[24.67,2.37],
[22.65,2.24],[22.87,2.19],[22.56,2.04],[24.24,2.22],[23.95,2.20],[24.12,2.05],[23.32,1.91],[22.95,1.82],[23.18,1.80],[23.80,1.84],[24.43,1.81],[23.13,1.73],[23.44,1.73],[23.55,1.73],[23.67,1.71],[23.68,1.65],[24.20,1.59],[24.46,1.57],[24.59,1.57],[24.55,1.52],[25.02,1.69],[24.94,1.68],[23.42,1.44],[24.33,1.45],[24.63,1.39],[24.79,1.37],[24.20,1.31],[25.18,1.44],[25.37,1.33],[25.24,1.29],[25.31,1.27],[25.50,1.23],[25.57,1.22],[24.85,1.22],[25.34,1.20],[25.73,1.17],[24.75,1.14],[25.01,1.14],[24.95,1.11],[25.49,1.13],[25.18,1.09],[25.27,1.06],[25.63,1.06],[25.83,1.07],[25.48,1.00],[25.76,0.98],[25.99,0.96],[25.37,0.94],[25.62,0.90],[26.19,0.84],[26.16,0.74],[25.90,0.57],[25.63,0.72],
[25.34,1.24],[25.49,1.22],[25.15,1.10],[25.41,1.05],[25.96,1.05],[25.56,1.01],[26.19,0.95],[25.96,0.97],[25.36,0.94],[26.21,0.84],[25.15,0.81],[26.42,0.72],[26.73,1.25],[27.90,0.61],[26.08,0.74],[25.79,0.59],[25.61,0.71],[24.99,1.13],[25.11,1.07],[25.40,1.05],[25.44,0.98],[24.75,1.04],[25.95,0.57],[20.68,1.41],[19.31,2.02],[28.77,0.93],[25.70,0.88],[25.86,0.80],[25.52,0.64]];

const W = 612, H = 709;
const SANS = "'Liberation Sans', Arial, Helvetica, sans-serif";
const SERIF = "'Liberation Serif', 'Times New Roman', Times, serif";
const svg = d3.select("body").append("svg").attr("width", W).attr("height", H);
svg.append("rect").attr("x",0.5).attr("y",0.5).attr("width",W-1).attr("height",H-1).attr("fill","#fff").attr("stroke","#000");

const x = d3.scaleLinear().domain([19,29]).range([71,582]);
const y = d3.scaleLinear().domain([0,5]).range([638,71]);
const BLUE = "#0000ff";

// stats box (drawn under grid)
svg.append("rect").attr("x",354.5).attr("y",71.5).attr("width",227).attr("height",22).attr("fill","#fff").attr("stroke",BLUE);
svg.append("text").attr("x",367).attr("y",89).style("font-family",SANS).style("font-size","18px").attr("fill",BLUE).attr("textLength",66).attr("lengthAdjust","spacingAndGlyphs").text(statsName);
statsValues.forEach(v => svg.append("text").attr("x",528).attr("y",89).style("font-family",SANS).style("font-size","18px").attr("fill",BLUE).attr("textLength",42).attr("lengthAdjust","spacingAndGlyphs").text(v));

// grid
const g = svg.append("g").attr("shape-rendering","crispEdges");
g.selectAll(".gx").data(xTicks.slice(1,-1)).enter().append("line")
  .attr("x1",d=>Math.round(x(d))+0.5).attr("x2",d=>Math.round(x(d))+0.5).attr("y1",71).attr("y2",638)
  .attr("stroke",BLUE).attr("stroke-dasharray","3,2");
g.selectAll(".gy").data(yTicks.slice(1,-1)).enter().append("line")
  .attr("y1",d=>Math.round(y(d))+0.5).attr("y2",d=>Math.round(y(d))+0.5).attr("x1",71).attr("x2",582)
  .attr("stroke",BLUE).attr("stroke-dasharray","3,2");

// frame
g.append("line").attr("x1",71).attr("x2",582).attr("y1",71.5).attr("y2",71.5).attr("stroke","#000").attr("stroke-dasharray","1,1");
g.append("line").attr("x1",581.5).attr("x2",581.5).attr("y1",71).attr("y2",638).attr("stroke",BLUE);
g.append("line").attr("x1",71.5).attr("x2",71.5).attr("y1",71).attr("y2",638).attr("stroke",BLUE);
g.append("line").attr("x1",71).attr("x2",582).attr("y1",637.5).attr("y2",637.5).attr("stroke","#000");

// minor ticks
const xMinor = d3.range(0,51).map(i => 19 + i*0.2);
g.selectAll(".tx").data(xMinor).enter().append("line")
  .attr("x1",d=>Math.round(x(d))+0.5).attr("x2",d=>Math.round(x(d))+0.5).attr("y1",637).attr("y2",d=>Math.abs(d-Math.round(d))<1e-6?628:631)
  .attr("stroke",BLUE);
const yMinor = d3.range(0,51).map(i => i*0.1);
g.selectAll(".ty").data(yMinor).enter().append("line")
  .attr("y1",d=>Math.round(y(d))+0.5).attr("y2",d=>Math.round(y(d))+0.5).attr("x1",72).attr("x2",d=>Math.abs(d*2-Math.round(d*2))<1e-6?80:76)
  .attr("stroke",BLUE);

// tick labels
svg.selectAll(".xl").data(xTicks).enter().append("text")
  .attr("x",d=>x(d)).attr("y",652).attr("text-anchor","middle").style("font-family",SANS).style("font-size","12px").attr("fill",BLUE).text(d=>d);
svg.selectAll(".yl").data(yTicks).enter().append("text")
  .attr("x",60).attr("y",d=>y(d)+4.5).attr("text-anchor","end").style("font-family",SANS).style("font-size","12px").attr("fill",BLUE).text((d,i)=>yTickLabels[i]);

// points
const pts = svg.append("g").attr("shape-rendering","crispEdges");
pts.selectAll(".b").data(blueSparse.concat(blueCore, blueDense)).enter().append("rect")
  .attr("x",d=>Math.round(x(d[0]))-1).attr("y",d=>Math.round(y(d[1]))-1).attr("width",2).attr("height",2).attr("fill",BLUE);
pts.selectAll(".yp").data(yellowPts).enter().append("rect")
  .attr("x",d=>Math.round(x(d[0]))-1).attr("y",d=>Math.round(y(d[1]))-1).attr("width",2).attr("height",2).attr("fill","#ffff00");

// labels
svg.append("text").attr("x",128).attr("y",46).style("font-family",SERIF).style("font-weight","bold")
  .style("font-size","25px").attr("fill",BLUE).attr("textLength",277).attr("lengthAdjust","spacingAndGlyphs").text(titleText);
svg.append("text").attr("x",83).attr("y",93).style("font-family",SANS).style("font-size","15px").attr("fill",BLUE).attr("textLength",33).attr("lengthAdjust","spacingAndGlyphs").text(chipLabel);
svg.append("text").attr("x",290).attr("y",675).style("font-family",SANS).style("font-size","21px").attr("fill",BLUE).attr("textLength",72).attr("lengthAdjust","spacingAndGlyphs").text(xLabel);
svg.append("text").attr("transform","translate(50,71) rotate(-90)").attr("text-anchor","end").style("font-family",SANS).style("font-size","21px").attr("fill",BLUE).text(yLabel);
</script>
</body></html>
